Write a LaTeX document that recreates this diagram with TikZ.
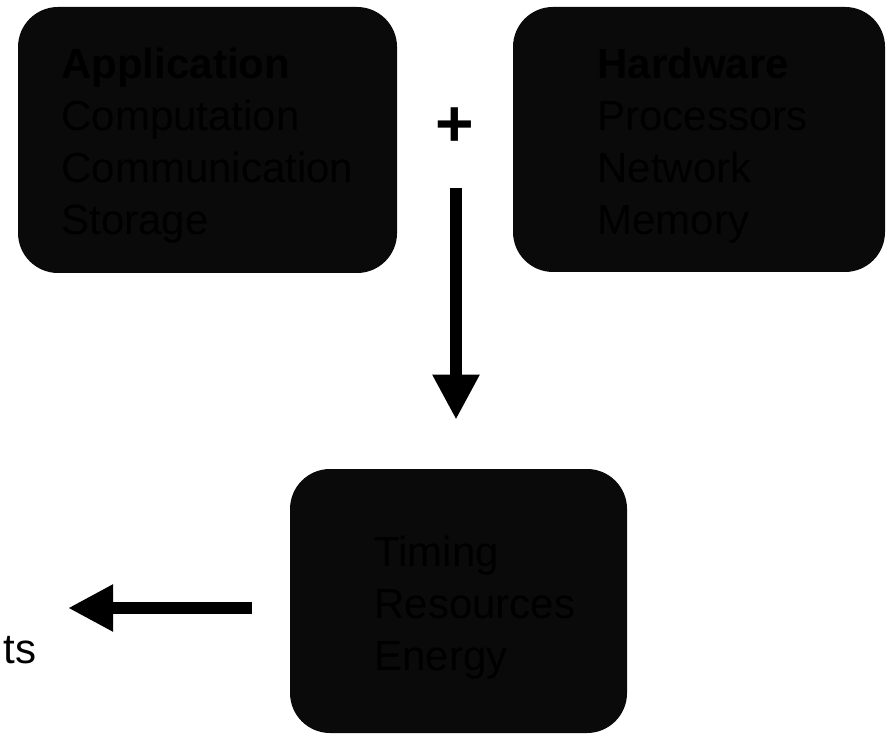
\documentclass[tikz,border=0pt]{standalone}
\usepackage{fontspec}
\setmainfont{Liberation Sans}
\usepackage{tikz}
\usetikzlibrary{positioning,calc}
\usetikzlibrary{arrows.meta}
\definecolor{BlockFill}{RGB}{10,10,10}
\tikzset{
  block/.style={fill=BlockFill,draw=none,rounded corners=1cm,inner sep=0pt},
  blocktext/.style={anchor=north west,inner sep=0pt,align=left,text=black,
    font=\fontsize{29.9}{37}\selectfont},
  bigarrow/.style={draw=black,line width=8.5pt,
    -{Triangle[length=1.125cm,width=1.1cm]}},
  plussign/.style={inner sep=0pt,font=\fontsize{47}{50}\selectfont\bfseries},
}
\begin{document}
\begin{tikzpicture}[scale=1]
\useasboundingbox (0,0) rectangle (22.15,18.35);
\node[block,minimum width=9.475cm,minimum height=6.65cm] (app) at (5.188,14.850) {};
\node[block,minimum width=9.300cm,minimum height=6.625cm] (hw) at (17.475,14.863) {};
\node[block,minimum width=8.425cm,minimum height=6.600cm] (cost) at (11.463,3.325) {};
\node[blocktext] (applbl) at (1.525,17.163) {\textbf{Application}\\Computation\\Communication\\Storage};
\node[blocktext] (hwlbl) at (14.925,17.150) {\textbf{Hardware}\\Processors\\Network\\Memory};
\node[blocktext] (costlbl) at (9.350,4.950) {Timing\\Resources\\Energy};
\node[plussign] (plus) at (11.375,15.160) {+};
\coordinate (split) at (11.400,13.650);
\coordinate (tip) at (1.700,3.150);
\draw[bigarrow,shorten >=1.225cm] (split) -- (split |- cost.north);
\draw[bigarrow,shorten <=0.950cm] (cost.west |- tip) -- (tip);
\node[anchor=base west,inner sep=0pt,font=\fontsize{29.9}{37}\selectfont] (result) at (0.088,1.775) {ts};
\end{tikzpicture}
\end{document}
